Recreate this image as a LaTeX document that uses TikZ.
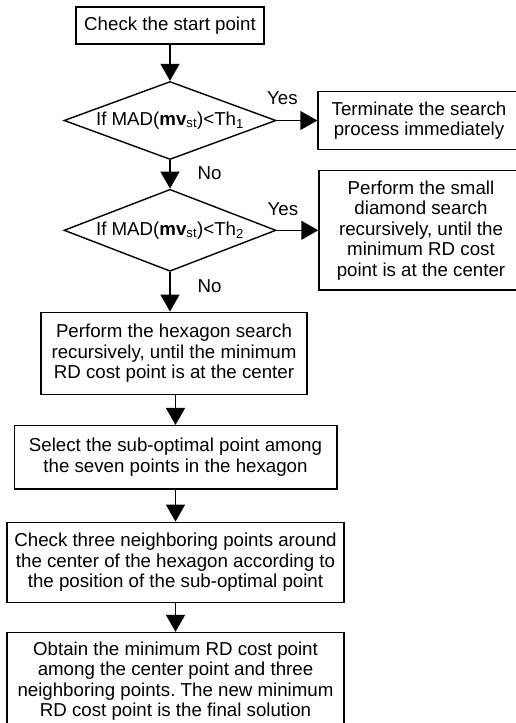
\documentclass[tikz,border=0pt]{standalone}
\usepackage{fontspec}
\setmainfont{Liberation Sans}
\usetikzlibrary{shapes.geometric,arrows.meta}
\frenchspacing

\begin{document}
\begin{tikzpicture}[x=1pt,y=-1pt]
		\tikzset{box/.style = {draw, line width=1.4pt, align=center, inner sep=0pt, font=\fontsize{18.7}{20.5}\selectfont}}
		\tikzset{test/.style = {draw, diamond, aspect=2.7, line width=1.4pt, inner sep=0pt, minimum width=212pt, font=\fontsize{18.7}{20.5}\selectfont}}
		\tikzset{edge/.style = {-{Triangle[length=17pt,width=19pt]}, line width=1.4pt}}
		\tikzset{lbl/.style = {inner sep=0pt, font=\fontsize{18.7}{20.5}\selectfont}}
		\useasboundingbox (0,0) rectangle (516,723);
		
		\node[box, minimum width=188pt, minimum height=37pt]   (1) at (170,  25.5) {Check the start point};
		\node[test, minimum height=78pt]                       (2) at (170, 120.5) {If MAD(\textbf{mv}\textsubscript{st})<Th\textsubscript{1}};
		\node[box, minimum width=202pt, minimum height=57.5pt] (3) at (419, 120.5) {Terminate the search\\process immediately};
		\node[test, minimum height=82pt]                       (4) at (170, 230.3) {If MAD(\textbf{mv}\textsubscript{st})<Th\textsubscript{2}};
		\node[box, minimum width=204pt, minimum height=119.5pt](5) at (421, 230.3) {Perform the small\\diamond search\\recursively, until the\\minimum RD cost\\point is at the center};
		\node[box, minimum width=266pt, minimum height=82pt]   (6) at (174, 353.3) {Perform the hexagon search\\recursively, until the minimum\\RD cost point is at the center};
		\node[box, minimum width=322.6pt, minimum height=63.3pt](7) at (175.5, 457.3) {Select the sub-optimal point among\\the seven points in the hexagon};
		\node[box, minimum width=337pt, minimum height=80pt]   (8) at (175.5, 562.3) {Check three neighboring points around\\the center of the hexagon according to\\the position of the sub-optimal point};
		\node[box, minimum width=337pt, minimum height=97pt]   (9) at (175.5, 681) {Obtain the minimum RD cost point\\among the center point and three\\neighboring points. The new minimum\\RD cost point is the final solution};
		
		\draw[edge] (1) to (2);
		\draw[edge] (2) to node[lbl, pos=0.14, anchor=south, yshift=15pt] {Yes} (3);
		\draw[edge] (2) to node[lbl, pos=0.45, anchor=west, xshift=27pt] {No} (4);
		\draw[edge] (4) to node[lbl, pos=0.15, anchor=south, yshift=14pt] {Yes} (5);
		\draw[edge] (4) to node[lbl, pos=0.37, anchor=west, xshift=27pt] {No} (4 |- 6.north);
		\draw[edge] (6.south -| 7) to (7);
		\draw[edge] (7) to (8);
		\draw[edge] (8) to (9);
		\end{tikzpicture}
\end{document}
